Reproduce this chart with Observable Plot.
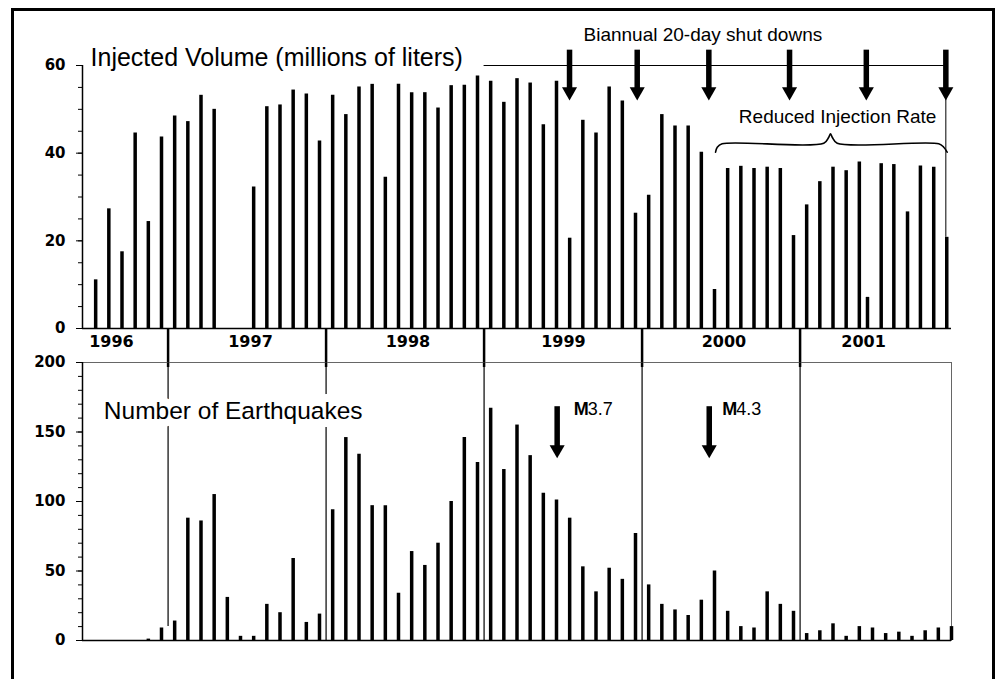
<!DOCTYPE html>
<html><head><meta charset="utf-8">
<script src="https://cdn.jsdelivr.net/npm/d3@7"></script>
<script src="https://cdn.jsdelivr.net/npm/@observablehq/plot@0.6"></script>
<style>
body{margin:0;background:#fff}
#wrap{position:relative;width:996px;height:679px;overflow:hidden;background:#fff}
#border{position:absolute;left:11px;top:8px;width:984px;height:720px;border:3px solid #000;box-sizing:border-box}
#wrap svg{position:absolute;left:0;top:0}
</style></head><body><div id="wrap"><div id="border"></div></div>
<script>
// ---- data (x = month index from Jan 1996, bar drawn mid-month) ----
const injectionMonths = [6,7,8,9,10,11,12,13,14,15,
  18,19,20,21,22,23,24,25,26,27,28,
  29,30,31,32,33,34,35,36,37,38,39,40,41,
  42,43,44,45,46,47,48,49,50,51,52,53,
  54,55,56,57,58,59,60,61,62,63,64,
  64.62,65.66,66.62,67.66,68.64,69.65,70.64];
const injectionVolume = [11.1,27.3,17.5,44.6,24.4,43.7,48.5,47.2,53.2,50.0,
  32.3,50.6,51.0,54.4,53.5,42.8,53.2,48.8,55.1,55.7,34.5,
  55.7,53.8,53.8,50.3,55.4,55.5,57.6,56.4,51.6,57.0,56.0,46.5,56.4,
  20.6,47.5,44.6,55.1,51.9,26.3,30.4,48.8,46.2,46.2,40.2,8.9,
  36.5,37.0,36.5,36.8,36.5,21.2,28.2,33.5,36.8,36.0,38.0,
  7.1,37.6,37.4,26.6,37.1,36.8,20.8];
const quakeMonths = [10,11,12,13,14,15,16,17,18,19,20,21,22,23,24,25,26,27,28,29,
  30,31,32,33,34,35,36,37,38,39,40,41,42,43,44,45,46,47,48,49,
  50,51,52,53,54,55,56,57,58,59,60,61,62,63,64,65,66,67,68,69,70,71];
const quakeCount = [1,9,14,88,86,105,31,3,3,26,20,59,13,19,94,146,134,97,97,34,
  64,54,70,100,146,128,167,123,155,133,106,101,88,53,35,52,44,77,40,26,
  22,18,29,50,21,10,9,35,26,21,5,7,12,3,10,9,5,6,3,7,9,10];

const yearNames = ["1996","1997","1998","1999","2000","2001"];
const yearLabelX = [7.7,18.26,30.22,42.03,54.22,64.82];
const yearBounds = [12,24,36,48,60];
const yearLineBottom = [10,0,0,0,0];
const volTicks = [0,20,40,60];
const volMinorTicks = [0,5,10,15,20,25,30,35,40,45,50,55,60];
const quakeTicks = [0,50,100,150,200];
const quakeMinorTicks = [0,10,20,30,40,50,60,70,80,90,100,110,120,130,140,150,160,170,180,190,200];

// annotations (data units)
const shutdownX = [42.49,47.63,53.07,59.2,65.03,71.07];
const shutdownLine = [{x1:36, x2:71.07, y:60}];
const reducedEnd = [{x:71.07, y1:20.8, y2:60}];
const brace = [[53.58,40.22],[53.71,41.36],[54.08,42.14],[61.8,42.27],[62.18,43.64],[62.31,44.42],
  [62.44,43.64],[62.82,42.27],[70.53,42.14],[70.91,41.36],[71.17,40.22]];
const quakeEvents = [{x:41.55, mag:"3.7", tx:42.81}, {x:53.1, mag:"4.3", tx:54.08}];

const xDomain = [5.5, 71.5];
const sans = "Liberation Sans, Arial, sans-serif";
const tickFont = "DejaVu Sans, sans-serif";

const injection = injectionMonths.map((m,i) => ({x: m + 0.5, volume: injectionVolume[i]}));
const quakes = quakeMonths.map((m,i) => ({x: m + 0.5, count: quakeCount[i]}));
const years = yearNames.map((n,i) => ({name: n, x: yearLabelX[i]}));
const yearLines = yearBounds.map((x,i) => ({x, bottom: yearLineBottom[i]}));

const topPlot = Plot.plot({
  width: 996, height: 679, marginTop: 65, marginBottom: 351, marginLeft: 82, marginRight: 45,
  style: {background: "transparent", overflow: "visible"},
  x: {domain: xDomain},
  y: {domain: [0, 60]},
  marks: [
    Plot.axisY(volMinorTicks, {anchor: "left", tickSize: 4, tickFormat: () => "", label: null}),
    Plot.axisY(volTicks, {anchor: "left", tickSize: 6, tickPadding: 11, label: null,
      fontSize: 15, fontWeight: "bold", fontFamily: tickFont}),
    Plot.axisX(yearBounds, {anchor: "bottom", tickSize: 39, strokeWidth: 2.5, tickFormat: () => "", label: null}),
    Plot.text(years, {x: "x", text: "name", frameAnchor: "bottom", dy: 13.5, lineAnchor: "middle",
      fontSize: 16, fontWeight: "bold", fontFamily: tickFont}),
    Plot.ruleX([xDomain[0]], {strokeWidth: 1.5}),
    Plot.ruleY([0], {strokeWidth: 1.5}),
    Plot.ruleX(injection, {x: "x", y1: 0, y2: "volume", strokeWidth: 3.5}),
    Plot.ruleY(shutdownLine, {y: "y", x1: "x1", x2: "x2", strokeWidth: 1}),
    Plot.ruleX(reducedEnd, {x: "x", y1: "y1", y2: "y2", strokeWidth: 1}),
    Plot.line(brace, {x: d => d[0], y: d => d[1], curve: "catmull-rom", strokeWidth: 1.6}),
    Plot.ruleX(shutdownX, {x: d => d, y1: 54.5, y2: 63.5, strokeWidth: 5.5}),
    Plot.dot(shutdownX, {x: d => d, y: 54.03, symbol: "triangle", r: 5.6, rotate: 180, fill: "black", stroke: null}),
    Plot.text(["Injected Volume (millions of liters)"], {x: 6.11, y: 60, text: d => d, textAnchor: "start",
      lineAnchor: "bottom", fontSize: 25, fontFamily: sans}),
    Plot.text(["Biannual 20-day shut downs"], {x: 43.55, y: 65.48, text: d => d, textAnchor: "start",
      lineAnchor: "bottom", fontSize: 19, fontFamily: sans}),
    Plot.text(["Reduced Injection Rate"], {x: 55.35, y: 46.77, text: d => d, textAnchor: "start",
      lineAnchor: "bottom", fontSize: 19, fontFamily: sans})
  ]
});

const bottomPlot = Plot.plot({
  width: 996, height: 679, marginTop: 362, marginBottom: 39, marginLeft: 82, marginRight: 45,
  style: {background: "transparent", overflow: "visible"},
  x: {domain: xDomain, axis: null},
  y: {domain: [0, 200]},
  marks: [
    Plot.frame({stroke: "#666", strokeWidth: 1}),
    Plot.ruleX(yearLines, {x: "x", y1: "bottom", y2: 200, strokeWidth: 1.2}),
    Plot.text(["Number of Earthquakes"], {x: 7.12, y: 159.1, text: d => d, textAnchor: "start",
      lineAnchor: "bottom", fontSize: 24.5, fontFamily: sans, fill: "black",
      stroke: "white", strokeWidth: 16, strokeLinejoin: "round", paintOrder: "stroke"}),
    Plot.axisY(quakeMinorTicks, {anchor: "left", tickSize: 4, tickFormat: () => "", label: null}),
    Plot.axisY(quakeTicks, {anchor: "left", tickSize: 6, tickPadding: 11, label: null,
      fontSize: 15, fontWeight: "bold", fontFamily: tickFont}),
    Plot.ruleX([xDomain[0]], {strokeWidth: 1.5}),
    Plot.ruleY([0], {strokeWidth: 1.5}),
    Plot.ruleX(quakes, {x: "x", y1: 0, y2: "count", strokeWidth: 3.5}),
    Plot.ruleX(quakeEvents, {x: "x", y1: 139.5, y2: 168.2, strokeWidth: 5.5}),
    Plot.dot(quakeEvents, {x: "x", y: 137.4, symbol: "triangle", r: 5.6, rotate: 180, fill: "black", stroke: null}),
    Plot.text(quakeEvents, {x: "tx", y: 162.2, text: () => "M", textAnchor: "start", lineAnchor: "bottom",
      fontSize: 18, fontWeight: "bold", fontFamily: sans}),
    Plot.text(quakeEvents, {x: "tx", y: 162.2, text: "mag", dx: 14, textAnchor: "start", lineAnchor: "bottom",
      fontSize: 18, fontFamily: sans})
  ]
});

const wrap = document.getElementById("wrap");
wrap.appendChild(topPlot);
wrap.appendChild(bottomPlot);
</script>
</body></html>
